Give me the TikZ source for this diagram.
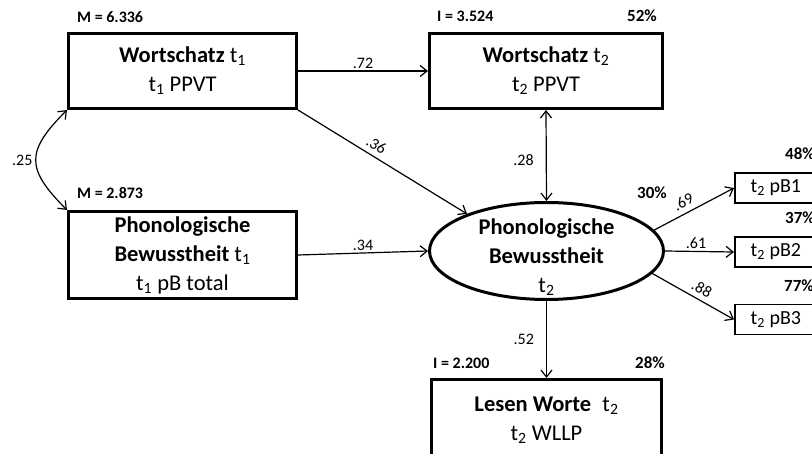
\documentclass[tikz,border=0pt]{standalone}
\usepackage{fontspec}
\setmainfont{Carlito}
\usetikzlibrary{arrows.meta, positioning, shapes.geometric}

\newcommand{\tix}[1]{{\mdseries t\textsubscript{#1}}}

\begin{document}
\begin{tikzpicture}[
  x=1pt, y=-1pt,
  box/.style={draw, line width=3pt, align=center, inner sep=2pt,
              font=\fontsize{22.5}{29}\selectfont\bfseries},
  lat/.style={ellipse, draw, line width=3pt, align=center, minimum width=234pt,
              minimum height=97pt, inner xsep=0pt, inner ysep=-12pt,
              font=\fontsize{22.5}{29}\selectfont\bfseries},
  ind/.style={draw, line width=1.8pt, minimum width=82pt, minimum height=30pt,
              anchor=west, font=\fontsize{20}{24}\selectfont},
  pth/.style={-{Straight Barb[length=7pt,width=11pt]}, line width=1.2pt},
  cov/.style={{Straight Barb[length=7pt,width=11pt]}-{Straight Barb[length=7pt,width=11pt]}, line width=1.2pt},
  est/.style={font=\fontsize{16}{16}\selectfont, inner sep=1pt},
  mv/.style={font=\fontsize{16}{16}\selectfont\bfseries, inner sep=0pt},
  rsq/.style={font=\fontsize{17}{17}\selectfont\bfseries, inner sep=0pt}
]
\clip (0,0) rectangle (812,454);

% manifest and latent variables
\node[box, minimum width=228pt, minimum height=75pt] (w1) at (182.5,71) {Wortschatz \tix{1}\\{\mdseries\tix{1} PPVT}};
\node[box, minimum width=233pt, minimum height=75pt] (w2) at (546,71) {Wortschatz \tix{2}\\{\mdseries\tix{2} PPVT}};
\node[box, minimum width=228pt, minimum height=87pt] (p1) at (182.5,255) {Phonologische\\Bewusstheit \tix{1}\\{\mdseries\tix{1} pB total}};
\node[lat] (pb) at (546.5,251) {\rule{0pt}{28pt}Phonologische\\Bewusstheit\\\tix{2}};
\node[box, minimum width=230pt, minimum height=81pt] (lw) at (546.5,420) {Lesen Worte\enspace\tix{2}\\{\mdseries\tix{2} WLLP}};
\node[ind] (pb1) at (734,188) {\tix{2} pB1};
\node[ind] (pb2) at (734,252) {\tix{2} pB2};
\node[ind] (pb3) at (734,319.5) {\tix{2} pB3};

% means, intercepts, explained variance
\node[mv, above right=9pt and 10pt of w1.north west, anchor=south west] (mw1) {M = 6.336};
\node[mv, above right=10pt and 9pt of w2.north west, anchor=south west] (iw2) {I = 3.524};
\node[rsq, above left=10pt and 7pt of w2.north east, anchor=south east] (rw2) {52\%};
\node[mv, above right=11pt and 10pt of p1.north west, anchor=south west] (mp1) {M = 2.873};
\node[rsq] (rpb) at (652,193) {30\%};
\node[mv, above right=9pt and 3pt of lw.north west, anchor=south west] (ilw) {I = 2.200};
\node[rsq, above left=9pt and -2pt of lw.north east, anchor=south east] (rlw) {28\%};
\node[rsq, above right=12pt and 51pt of pb1.north west, anchor=south west] (r1) {48\%};
\node[rsq, above right=12pt and 51pt of pb2.north west, anchor=south west] (r2) {37\%};
\node[rsq, above right=12pt and 50pt of pb3.north west, anchor=south west] (r3) {77\%};

% paths
\draw[cov] (w1.south west) to[out=225, in=135, looseness=1.5] node[est, left=2pt] {.25} (p1.north west);
\draw[pth] (w1.east) -- node[est, above=1pt] {.72} (w2.west);
\draw[pth] (w1.south east) -- node[est, sloped, above=4pt, pos=0.43] {.36} (pb.155);
\draw[pth] (p1.east) -- node[est, above=1pt] {.34} (pb.west);
\draw[cov] (w2.south) -- node[est, left=11pt, pos=0.55] {.28} (pb.north);
\draw[pth] (pb.south) -- node[est, left=11pt] {.52} (lw.north);
\draw[pth] (pb.11) -- node[est, sloped, above=4pt, pos=0.43] {.69} (pb1.west);
\draw[pth] (pb.east) -- node[est, above=1pt, pos=0.45] {.61} (pb2.west);
\draw[pth] (pb.-12) -- node[est, sloped, above=4pt, pos=0.54] {.88} (pb3.west);
\end{tikzpicture}
\end{document}
